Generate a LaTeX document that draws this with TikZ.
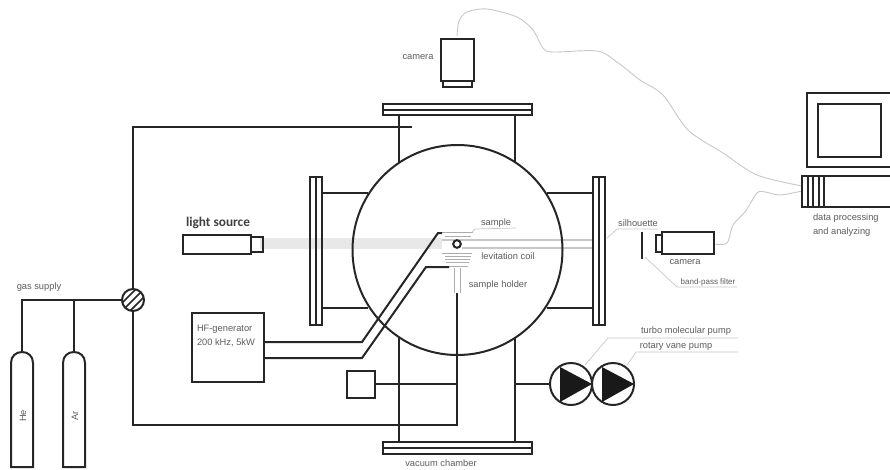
\documentclass[tikz,border=0pt]{standalone}
\usepackage{fontspec}
\setmainfont{Liberation Sans}
\newfontfamily\carlito{Carlito}
\definecolor{lbl}{gray}{0.36}
\definecolor{leader}{gray}{0.78}
\definecolor{beam}{gray}{0.91}
\definecolor{coil}{gray}{0.68}
\tikzset{
  ln/.style={line width=2pt,black!85},
  ln2/.style={line width=1.7pt,black!85},
  thin gray/.style={line width=0.7pt,leader},
  cable/.style={line width=0.9pt,leader,smooth},
  txt/.style={font=\fontsize{9.3}{11}\selectfont,text=lbl,inner sep=0pt,outer sep=0pt},
  boxn/.style={draw,ln,inner sep=0pt,outer sep=0pt},
  pumpn/.style={circle,draw,ln,minimum size=42pt,inner sep=0pt,outer sep=0pt},
}
\begin{document}
\begin{tikzpicture}[x=1pt,y=-1pt]
\useasboundingbox (0,0) rectangle (890,469);
% beam
\fill[beam] (260,238) rectangle (442,249);
\draw[line width=1.2pt,leader] (442,240) -- (593,240) (462,248) -- (593,248);
% chamber
\draw[ln] (457.5,250) circle (105);
\foreach \y in {193,308}{
  \draw[ln] (322,\y) -- (368,\y);
  \draw[ln] (547,\y) -- (593,\y);
}
\draw[ln2] (399,115) -- (399,163) (515,115) -- (515,163);
\draw[ln2] (399,442) -- (399,337) (515,442) -- (515,337);
\draw[ln] (383,104) rectangle (532,115) (383,109.5) -- (532,109.5);
\draw[ln] (383,442) rectangle (532,454) (383,448) -- (532,448);
\draw[ln] (310,177) rectangle (322,325) (316,177) -- (316,325);
\draw[ln] (593,177) rectangle (605,325) (599,177) -- (599,325);
% top camera
\draw[ln] (441,39) rectangle (474,81);
\draw[ln] (443,81) rectangle (472,87);
% cables
\draw[cable] plot coordinates {(457,36) (459,21) (467,12) (487,9) (517,17) (533,30) (543,48) (553,52) (597,51) (617,62) (640,80) (663,95) (688,130) (723,153) (757,175) (802,186)};
\draw[cable] plot coordinates {(714,244) (727,243) (733,225) (745,212) (757,193) (765,192) (780,195) (802,191)};
% light source
\draw[ln] (183,235) rectangle (251,254);
\draw[ln] (251,237) rectangle (263,252);
\node[font=\carlito\bfseries\fontsize{13.3}{15}\selectfont,text=black!75,inner sep=0pt] (lightlbl) at (218,223) {light source};
% sample and coil
\foreach \a/\b/\y in {442/473/232,445/471/236,442/472/253,445/471/256,445/470/259,446/469/262,447/468/266}{
  \draw[line width=0.8pt,coil] (\a,\y) -- (\b,\y);
}
\draw[line width=0.8pt,coil] (454,268) -- (454,293) (460,268) -- (460,293);
\draw[ln] (457,244) circle (3.8);
% HF generator and wires
\node[boxn,minimum width=72pt,minimum height=69pt] (hf) at (228,347.5) {};
\node[txt,anchor=west] (hf1) at (197,329) {HF-generator};
\node[txt,anchor=west] (hf2) at (197,343) {200 kHz, 5kW};
\coordinate (w1a) at (264,342); \coordinate (w1b) at (362,342); \coordinate (w1c) at (438,233); \coordinate (w1d) at (442,233);
\coordinate (w2a) at (264,358); \coordinate (w2b) at (362,358); \coordinate (w2c) at (426,267); \coordinate (w2d) at (449,267);
\draw[ln] (w1a) -- (w1b) -- (w1c) -- (w1d);
\draw[ln] (w2a) -- (w2b) -- (w2c) -- (w2d);
% gas
\node[circle,draw,ln,fill=white,minimum size=22pt,inner sep=0pt,outer sep=0pt] (valve) at (133,300) {};
\begin{scope}
  \clip (133,300) circle (11);
  \draw[line width=1.6pt,black!85] (120,313) -- (146,287) (116,309) -- (142,283) (124,317) -- (150,291);
\end{scope}
\coordinate (topend) at (412,127);
\coordinate (botturn) at (457,425);
\coordinate (holdertop) at (457,293);
\draw[ln] (valve.north) |- (topend);
\draw[ln] (valve.south) |- (botturn) -- (holdertop);
\coordinate (gasleft) at (22,300);
\coordinate (gasmid) at (74,300);
\coordinate (he) at (22,352);
\coordinate (ar) at (74,352);
\draw[ln] (valve.west) -- (gasleft) -- (he);
\draw[ln] (gasmid) -- (ar);
\foreach \c in {22,74}{
  \draw[ln] (\c-11,467) -- (\c-11,363) .. controls (\c-11,356) and (\c-6,352) .. (\c,352) .. controls (\c+6,352) and (\c+11,356) .. (\c+11,363) -- (\c+11,467) -- cycle;
}
\node[txt,rotate=90] (helbl) at (23,416) {He};
\node[txt,rotate=90] (arlbl) at (75,416) {Ar};
\node[txt] (gaslbl) at (39,287) {gas supply};
% small box
\node[boxn,minimum width=28pt,minimum height=27pt] (smallbox) at (361,384) {};
\coordinate (smallend) at (457,384);
\draw[ln2] (smallbox.east) -- (smallend);
% pumps
\node[pumpn] (p1) at (571,384) {};
\node[pumpn] (p2) at (613,384) {};
\fill[black!90] (560,367) -- (592,384) -- (560,402) -- cycle;
\fill[black!90] (602,367) -- (634,384) -- (602,402) -- cycle;
\coordinate (pumpin) at (515,384);
\draw[ln2] (pumpin) -- (p1.west);
\node[txt] (tp) at (686,331) {turbo molecular pump};
\node[txt] (rv) at (676,346) {rotary vane pump};
\draw[thin gray] (585,365) -- (608,338) -- (738,338);
\draw[thin gray] (627,365) -- (636,352) -- (738,352);
% right camera
\draw[ln] (662,232) rectangle (714,254);
\draw[ln] (656,235) rectangle (662,252);
\draw[line width=2.6pt,black!85] (642,232) -- (642,259);
\node[txt] (camr) at (685,262) {camera};
\node[txt] (sil) at (638,223) {silhouette};
\node[txt,font=\fontsize{8}{10}\selectfont] (bp) at (708,282) {band-pass filter};
\draw[thin gray] (607,238) -- (617,229) -- (658,229);
\draw[thin gray] (645,257) -- (677,287) -- (737,287);
% computer
\draw[ln] (892,93) -- (807,93) -- (807,167) -- (892,167);
\draw[ln] (818,104) rectangle (881,157);
\draw[ln] (892,176) -- (802,176) -- (802,207) -- (892,207);
\draw[ln] (808,176) rectangle (813,207);
\draw[ln] (819,176) rectangle (824,207);
\node[txt,align=left,anchor=north west,font=\fontsize{9.3}{14}\selectfont] (dp) at (813,214) {data processing\\and analyzing};
% chamber labels
\node[txt] (camt) at (418,57) {camera};
\node[txt] (vac) at (441,463) {vacuum chamber};
\node[txt] (sam) at (496,223) {sample};
\node[txt] (lev) at (508,256) {levitation coil};
\node[txt] (hold) at (498,285) {sample holder};
\draw[thin gray] (472,232) -- (475,229) -- (516,228);
\end{tikzpicture}
\end{document}
